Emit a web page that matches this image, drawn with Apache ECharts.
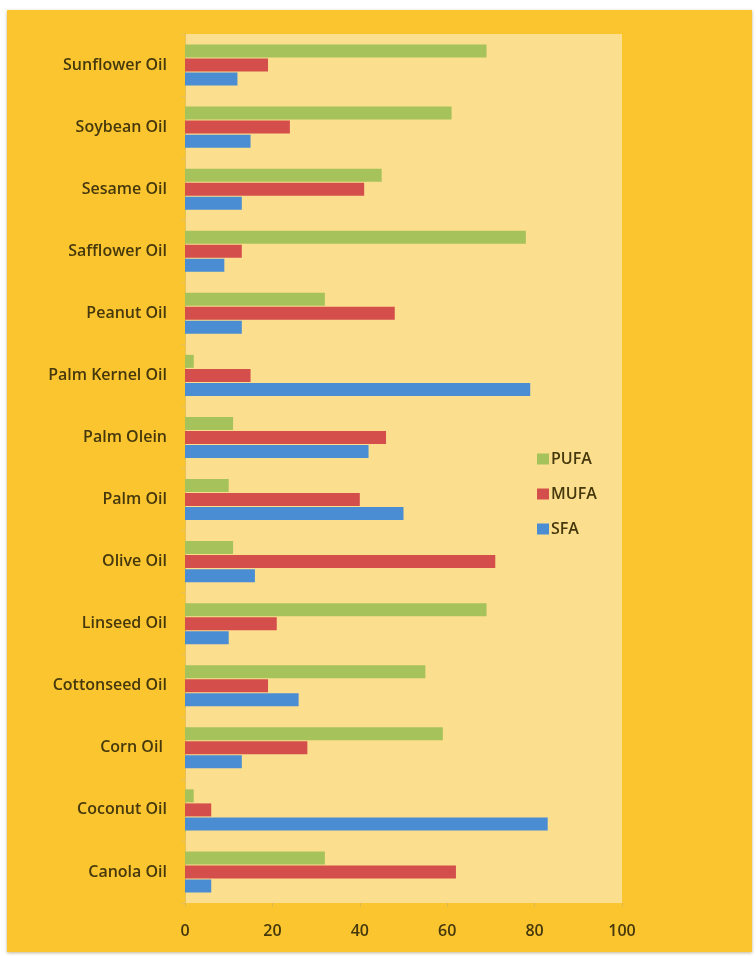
<!DOCTYPE html>
<html>
<head>
<meta charset="utf-8">
<script src="https://cdn.jsdelivr.net/npm/echarts@6/dist/echarts.min.js"></script>
<style>
html,body{margin:0;padding:0;background:#ffffff;}
#chart{width:756px;height:956px;}
</style>
</head>
<body>
<div id="chart"></div>
<script>
const categories = ["Canola Oil","Coconut Oil","Corn Oil ","Cottonseed Oil","Linseed Oil","Olive Oil","Palm Oil","Palm Olein","Palm Kernel Oil","Peanut Oil","Safflower Oil","Sesame Oil","Soybean Oil","Sunflower Oil"];
const sfa  = [6, 83, 13, 26, 10, 16, 50, 42, 79, 13, 9, 13, 15, 12];
const mufa = [62, 6, 28, 19, 21, 71, 40, 46, 15, 48, 13, 41, 24, 19];
const pufa = [32, 2, 59, 55, 69, 11, 10, 11, 2, 32, 78, 45, 61, 69];
const xTicks = [0, 20, 40, 60, 80, 100];

const chart = echarts.init(document.getElementById('chart'), null, {renderer:'canvas'});
const textColor = '#45380c';
const font = '"Open Sans", Lato, sans-serif';
chart.setOption({
  animation: false,
  backgroundColor: '#ffffff',
  graphic: [{
    type: 'rect', z: -10, silent: true,
    shape: {x: 7, y: 10, width: 745, height: 942},
    style: {fill: '#FBC530', shadowColor: 'rgba(120,90,20,0.45)', shadowBlur: 3, shadowOffsetY: 1}
  }],
  grid: {left: 185, right: 134, top: 34, bottom: 53, show: true, backgroundColor: '#FBDE8E', borderWidth: 0},
  legend: {
    orient: 'vertical', left: 532, top: 446, itemWidth: 12, itemHeight: 11, itemGap: 19,
    data: ['PUFA','MUFA','SFA'],
    textStyle: {color: textColor, fontSize: 16, fontWeight: 600, fontFamily: font, padding: [0,0,0,-3]},
    icon: 'rect'
  },
  xAxis: {
    type: 'value', min: xTicks[0], max: xTicks[xTicks.length-1], interval: 20,
    axisLine: {show: false},
    axisTick: {show: true, length: 4, lineStyle: {color: '#e3b84a'}},
    splitLine: {show: false},
    axisLabel: {color: textColor, fontSize: 16, fontWeight: 600, fontFamily: font, margin: 20}
  },
  yAxis: {
    type: 'category', data: categories,
    axisLine: {show: true, lineStyle: {color: '#e6c15a'}},
    axisTick: {show: true, length: 4, lineStyle: {color: '#e6c15a'}},
    axisLabel: {color: textColor, fontSize: 16, fontWeight: 600, fontFamily: font, margin: 18}
  },
  series: [
    {name: 'PUFA', type: 'bar', data: pufa, barWidth: 13, barGap: '8%', itemStyle: {color: '#A6C25A'}},
    {name: 'MUFA', type: 'bar', data: mufa, barWidth: 13, barGap: '8%', itemStyle: {color: '#D44E4B'}},
    {name: 'SFA', type: 'bar', data: sfa, barWidth: 13, barGap: '8%', itemStyle: {color: '#4A8DD3'}}
  ]
});
</script>
</body>
</html>
